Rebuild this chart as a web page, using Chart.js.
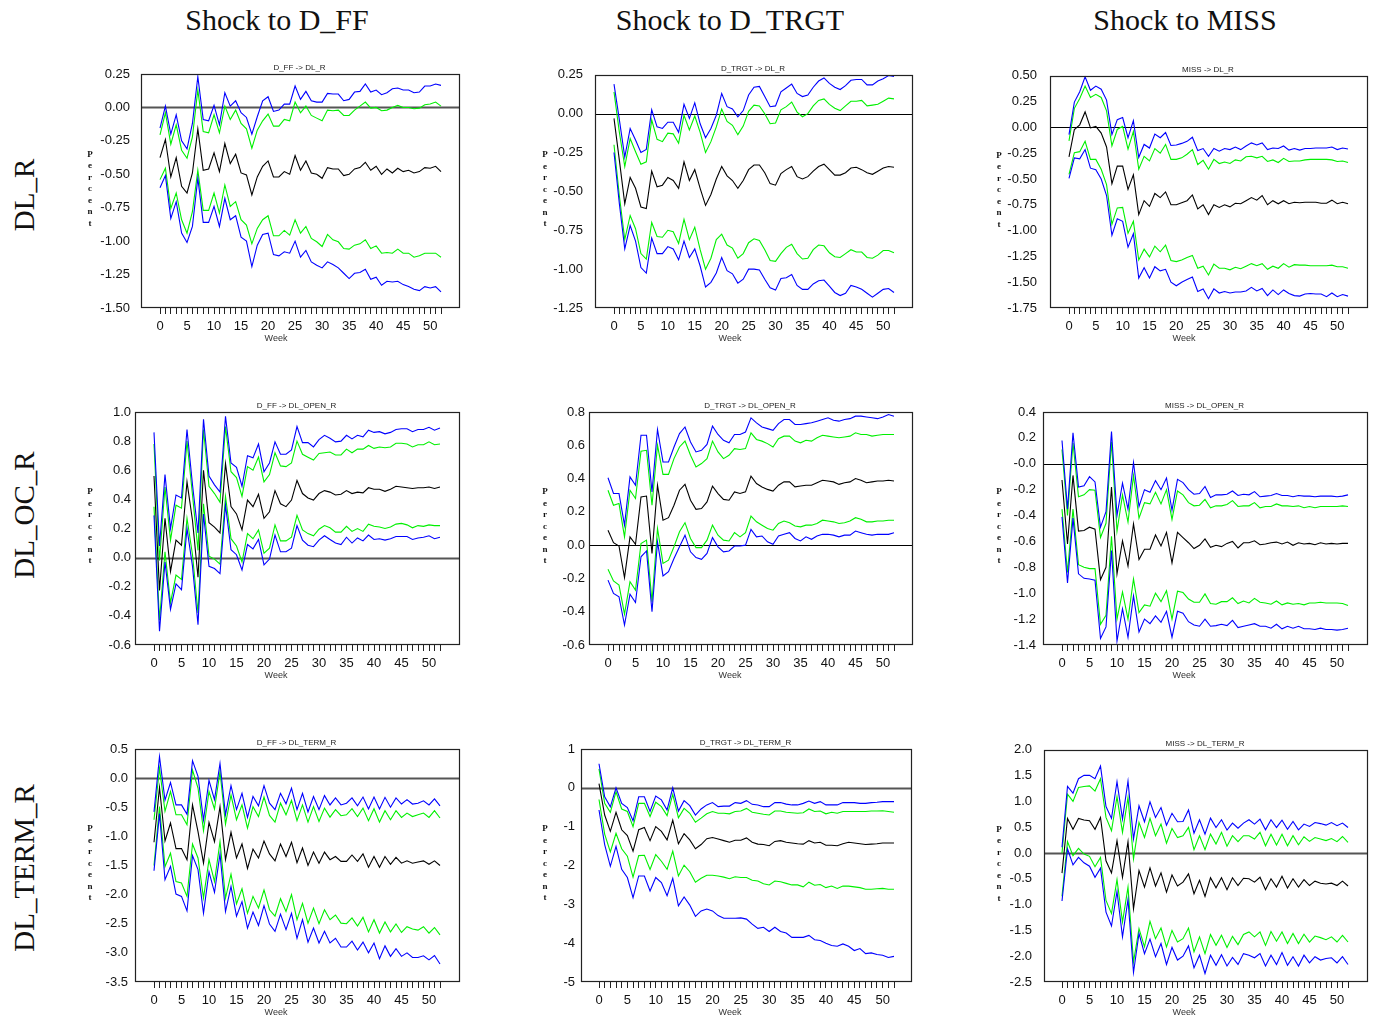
<!DOCTYPE html>
<html>
<head>
<meta charset="utf-8">
<title>Impulse responses</title>
<script src="https://cdn.jsdelivr.net/npm/chart.js@4.4.1/dist/chart.umd.min.js"></script>
<style>
  html, body { margin: 0; padding: 0; background: #fff; }
  body { width: 1376px; height: 1022px; position: relative; overflow: hidden; }
  .cell { position: absolute; }
  .cell canvas { display: block; }
  .head, .rowlab {
    position: absolute; font-family: 'Liberation Serif', 'Times New Roman', serif;
    color: #111; white-space: nowrap; line-height: 1;
  }
  .head { font-size: 30px; transform: translate(-50%, -50%); }
  .rowlab { font-size: 29px; transform: translate(-50%, -50%) rotate(-90deg); }
</style>
</head>
<body>
<div class="head" style="left:277px; top:20px;">Shock to D_FF</div>
<div class="head" style="left:730px; top:20px;">Shock to D_TRGT</div>
<div class="head" style="left:1185px; top:20px;">Shock to MISS</div>
<div class="rowlab" style="left:24px; top:195px;">DL_R</div>
<div class="rowlab" style="left:24px; top:515px;">DL_OC_R</div>
<div class="rowlab" style="left:24px; top:868px;">DL_TERM_R</div>

<script>
// ---- horizon (weeks) and axis tick labels ----
const weeks = [0,1,2,3,4,5,6,7,8,9,10,11,12,13,14,15,16,17,18,19,20,21,22,23,24,25,
  26,27,28,29,30,31,32,33,34,35,36,37,38,39,40,41,42,43,44,45,46,47,48,49,50,51,52];
const weekLabels = ['0','5','10','15','20','25','30','35','40','45','50'];

const yTicksDlrFF = [0.25,0,-0.25,-0.5,-0.75,-1,-1.25,-1.5];
const yLabelsDlrFF = ['0.25','0.00','-0.25','-0.50','-0.75','-1.00','-1.25','-1.50'];
const yTicksDlrTRGT = [0.25,0,-0.25,-0.5,-0.75,-1,-1.25];
const yLabelsDlrTRGT = ['0.25','0.00','-0.25','-0.50','-0.75','-1.00','-1.25'];
const yTicksDlrMISS = [0.5,0.25,0,-0.25,-0.5,-0.75,-1,-1.25,-1.5,-1.75];
const yLabelsDlrMISS = ['0.50','0.25','0.00','-0.25','-0.50','-0.75','-1.00','-1.25','-1.50','-1.75'];
const yTicksOpenFF = [1,0.8,0.6,0.4,0.2,0,-0.2,-0.4,-0.6];
const yLabelsOpenFF = ['1.0','0.8','0.6','0.4','0.2','0.0','-0.2','-0.4','-0.6'];
const yTicksOpenTRGT = [0.8,0.6,0.4,0.2,0,-0.2,-0.4,-0.6];
const yLabelsOpenTRGT = ['0.8','0.6','0.4','0.2','0.0','-0.2','-0.4','-0.6'];
const yTicksOpenMISS = [0.4,0.2,0,-0.2,-0.4,-0.6,-0.8,-1,-1.2,-1.4];
const yLabelsOpenMISS = ['0.4','0.2','-0.0','-0.2','-0.4','-0.6','-0.8','-1.0','-1.2','-1.4'];
const yTicksTermFF = [0.5,0,-0.5,-1,-1.5,-2,-2.5,-3,-3.5];
const yLabelsTermFF = ['0.5','0.0','-0.5','-1.0','-1.5','-2.0','-2.5','-3.0','-3.5'];
const yTicksTermTRGT = [1,0,-1,-2,-3,-4,-5];
const yLabelsTermTRGT = ['1','0','-1','-2','-3','-4','-5'];
const yTicksTermMISS = [2,1.5,1,0.5,0,-0.5,-1,-1.5,-2,-2.5];
const yLabelsTermMISS = ['2.0','1.5','1.0','0.5','0.0','-0.5','-1.0','-1.5','-2.0','-2.5'];

// ---- D_FF -> DL_R ----
const dffDlrResp = [-0.375,-0.24,-0.52,-0.375,-0.59,-0.64,-0.49,-0.16,-0.47,-0.46,
  -0.34,-0.48,-0.27,-0.42,-0.35,-0.49,-0.505,-0.655,-0.52,-0.44,
  -0.40,-0.52,-0.52,-0.48,-0.50,-0.36,-0.47,-0.40,-0.49,-0.50,
  -0.53,-0.45,-0.46,-0.46,-0.51,-0.50,-0.46,-0.45,-0.41,-0.47,
  -0.44,-0.50,-0.46,-0.49,-0.455,-0.48,-0.47,-0.49,-0.48,-0.45,
  -0.455,-0.44,-0.48];
const dffDlrUp2 = [-0.155,0.01,-0.20,-0.055,-0.25,-0.31,-0.12,0.23,-0.09,-0.10,
  0.015,-0.13,0.11,0.01,0.05,-0.04,-0.075,-0.20,-0.07,0.05,
  0.08,-0.03,-0.02,0.025,0.025,0.16,0.06,0.12,0.05,0.04,
  0.04,0.105,0.10,0.10,0.05,0.06,0.115,0.12,0.175,0.115,
  0.13,0.095,0.11,0.14,0.145,0.13,0.13,0.11,0.115,0.16,
  0.16,0.175,0.165];
const dffDlrUp1 = [-0.205,-0.04,-0.275,-0.13,-0.32,-0.38,-0.22,0.13,-0.18,-0.19,
  -0.055,-0.19,0.01,-0.09,-0.02,-0.12,-0.16,-0.305,-0.17,-0.10,
  -0.05,-0.14,-0.14,-0.09,-0.10,0.04,-0.04,0.01,-0.06,-0.08,
  -0.10,-0.02,-0.025,-0.02,-0.06,-0.06,-0.02,0.01,0.04,-0.005,
  0.00,-0.025,-0.02,0.00,0.015,0.00,0.00,-0.01,-0.005,0.02,
  0.025,0.04,0.01];
const dffDlrLo1 = [-0.54,-0.455,-0.755,-0.64,-0.84,-0.94,-0.78,-0.47,-0.77,-0.77,
  -0.64,-0.79,-0.58,-0.74,-0.705,-0.84,-0.88,-1.02,-0.905,-0.84,
  -0.81,-0.96,-0.96,-0.92,-0.955,-0.84,-0.94,-0.89,-0.98,-1.005,
  -1.04,-0.95,-0.99,-1.005,-1.055,-1.06,-1.03,-1.02,-0.99,-1.055,
  -1.035,-1.09,-1.085,-1.09,-1.06,-1.09,-1.09,-1.12,-1.11,-1.09,
  -1.09,-1.09,-1.12];
const dffDlrLo2 = [-0.60,-0.51,-0.83,-0.705,-0.94,-1.01,-0.89,-0.53,-0.86,-0.86,
  -0.74,-0.89,-0.68,-0.84,-0.81,-0.97,-1.00,-1.19,-1.03,-0.95,
  -0.94,-1.10,-1.11,-1.08,-1.09,-1.00,-1.12,-1.07,-1.155,-1.18,
  -1.20,-1.155,-1.175,-1.20,-1.24,-1.28,-1.24,-1.235,-1.21,-1.285,
  -1.27,-1.33,-1.30,-1.305,-1.30,-1.325,-1.34,-1.36,-1.37,-1.34,
  -1.35,-1.34,-1.38];

// ---- D_TRGT -> DL_R ----
const dtrgtDlrResp = [-0.03,-0.30,-0.58,-0.41,-0.48,-0.60,-0.61,-0.37,-0.47,-0.46,
  -0.41,-0.43,-0.48,-0.31,-0.43,-0.36,-0.48,-0.59,-0.52,-0.42,
  -0.34,-0.40,-0.43,-0.48,-0.43,-0.36,-0.33,-0.33,-0.38,-0.45,
  -0.46,-0.385,-0.36,-0.34,-0.405,-0.42,-0.405,-0.37,-0.34,-0.325,
  -0.36,-0.395,-0.395,-0.38,-0.35,-0.345,-0.36,-0.38,-0.39,-0.37,
  -0.35,-0.34,-0.345];
const dtrgtDlrUp2 = [0.19,-0.04,-0.28,-0.095,-0.17,-0.25,-0.23,0.025,-0.085,-0.095,
  -0.055,-0.055,-0.12,0.06,-0.03,0.07,-0.065,-0.155,-0.095,-0.01,
  0.13,0.045,0.03,-0.02,0.02,0.12,0.17,0.175,0.11,0.045,
  0.05,0.14,0.165,0.19,0.13,0.11,0.12,0.17,0.21,0.23,
  0.195,0.17,0.155,0.18,0.215,0.22,0.22,0.185,0.185,0.21,
  0.225,0.245,0.24];
const dtrgtDlrUp1 = [0.14,-0.12,-0.34,-0.16,-0.245,-0.325,-0.31,-0.04,-0.165,-0.18,
  -0.125,-0.13,-0.19,-0.01,-0.105,-0.015,-0.12,-0.25,-0.18,-0.085,
  0.03,-0.05,-0.075,-0.135,-0.08,0.015,0.055,0.05,0.00,-0.065,
  -0.06,0.025,0.045,0.075,0.01,-0.02,0.00,0.05,0.085,0.095,
  0.06,0.035,0.02,0.05,0.08,0.08,0.085,0.05,0.055,0.06,
  0.08,0.10,0.095];
const dtrgtDlrLo1 = [-0.20,-0.53,-0.81,-0.655,-0.74,-0.90,-0.935,-0.70,-0.79,-0.795,
  -0.75,-0.76,-0.835,-0.68,-0.81,-0.73,-0.875,-1.00,-0.93,-0.81,
  -0.775,-0.845,-0.865,-0.93,-0.90,-0.83,-0.805,-0.815,-0.875,-0.945,
  -0.95,-0.90,-0.86,-0.84,-0.90,-0.935,-0.93,-0.875,-0.845,-0.85,
  -0.895,-0.92,-0.925,-0.90,-0.875,-0.89,-0.89,-0.925,-0.93,-0.91,
  -0.88,-0.88,-0.895];
const dtrgtDlrLo2 = [-0.25,-0.58,-0.87,-0.72,-0.82,-0.99,-1.025,-0.80,-0.90,-0.90,
  -0.855,-0.87,-0.94,-0.82,-0.925,-0.87,-0.98,-1.115,-1.085,-1.025,
  -0.925,-1.01,-1.03,-1.09,-1.065,-1.00,-1.00,-1.005,-1.065,-1.12,
  -1.135,-1.06,-1.055,-1.035,-1.105,-1.13,-1.13,-1.095,-1.075,-1.07,
  -1.11,-1.15,-1.17,-1.155,-1.105,-1.115,-1.13,-1.155,-1.18,-1.155,
  -1.13,-1.125,-1.15];

// ---- MISS -> DL_R ----
const missDlrResp = [-0.285,-0.02,0.025,0.15,-0.005,0.01,-0.055,-0.19,-0.545,-0.375,
  -0.375,-0.60,-0.46,-0.845,-0.71,-0.765,-0.64,-0.68,-0.625,-0.75,
  -0.75,-0.73,-0.71,-0.655,-0.79,-0.75,-0.845,-0.75,-0.775,-0.75,
  -0.77,-0.735,-0.74,-0.71,-0.68,-0.705,-0.66,-0.75,-0.71,-0.74,
  -0.71,-0.74,-0.725,-0.73,-0.725,-0.725,-0.725,-0.735,-0.735,-0.705,
  -0.74,-0.725,-0.74];
const missDlrUp2 = [-0.07,0.245,0.345,0.49,0.36,0.40,0.37,0.265,-0.07,0.075,
  0.095,-0.10,0.065,-0.29,-0.165,-0.20,-0.065,-0.10,-0.05,-0.175,
  -0.17,-0.155,-0.135,-0.095,-0.225,-0.205,-0.28,-0.205,-0.23,-0.205,
  -0.215,-0.19,-0.215,-0.18,-0.15,-0.17,-0.15,-0.215,-0.20,-0.205,
  -0.18,-0.22,-0.205,-0.22,-0.205,-0.205,-0.20,-0.20,-0.20,-0.19,
  -0.215,-0.20,-0.21];
const missDlrUp1 = [-0.13,0.185,0.28,0.40,0.29,0.32,0.29,0.16,-0.18,-0.02,
  0.01,-0.21,-0.04,-0.405,-0.28,-0.325,-0.205,-0.25,-0.165,-0.31,
  -0.31,-0.295,-0.26,-0.215,-0.36,-0.32,-0.405,-0.31,-0.35,-0.335,
  -0.35,-0.315,-0.325,-0.285,-0.28,-0.295,-0.28,-0.33,-0.315,-0.34,
  -0.30,-0.33,-0.325,-0.325,-0.315,-0.31,-0.31,-0.31,-0.31,-0.315,
  -0.33,-0.325,-0.34];
const missDlrLo1 = [-0.455,-0.245,-0.235,-0.135,-0.31,-0.31,-0.405,-0.555,-0.94,-0.78,
  -0.775,-1.025,-0.91,-1.285,-1.18,-1.255,-1.15,-1.205,-1.14,-1.29,
  -1.30,-1.285,-1.26,-1.24,-1.365,-1.345,-1.43,-1.325,-1.365,-1.365,
  -1.38,-1.355,-1.37,-1.345,-1.32,-1.34,-1.32,-1.375,-1.345,-1.365,
  -1.32,-1.355,-1.33,-1.335,-1.335,-1.34,-1.34,-1.34,-1.34,-1.335,
  -1.35,-1.35,-1.365];
const missDlrLo2 = [-0.495,-0.295,-0.305,-0.215,-0.395,-0.41,-0.50,-0.66,-1.045,-0.885,
  -0.91,-1.16,-1.03,-1.46,-1.36,-1.46,-1.35,-1.39,-1.375,-1.50,
  -1.535,-1.50,-1.475,-1.45,-1.59,-1.565,-1.66,-1.565,-1.605,-1.59,
  -1.605,-1.595,-1.595,-1.585,-1.55,-1.585,-1.56,-1.63,-1.575,-1.62,
  -1.575,-1.61,-1.63,-1.635,-1.615,-1.61,-1.615,-1.615,-1.64,-1.605,
  -1.64,-1.62,-1.635];

// ---- D_FF -> DL_OPEN_R ----
const dffOpenResp = [0.56,-0.225,0.27,-0.095,0.12,0.085,0.52,0.255,-0.135,0.60,
  0.24,0.21,0.17,0.645,0.35,0.30,0.19,0.395,0.35,0.435,
  0.27,0.315,0.46,0.37,0.35,0.395,0.53,0.44,0.41,0.395,
  0.44,0.46,0.45,0.43,0.435,0.46,0.44,0.45,0.445,0.48,
  0.47,0.47,0.455,0.47,0.49,0.485,0.48,0.475,0.48,0.48,
  0.485,0.475,0.485];
const dffOpenUp2 = [0.86,0.08,0.57,0.20,0.43,0.41,0.88,0.50,0.17,0.95,
  0.56,0.50,0.45,0.97,0.65,0.62,0.49,0.70,0.685,0.78,
  0.59,0.65,0.795,0.71,0.71,0.74,0.90,0.79,0.79,0.76,
  0.81,0.84,0.82,0.795,0.80,0.84,0.815,0.84,0.83,0.875,
  0.86,0.865,0.85,0.86,0.88,0.885,0.885,0.865,0.88,0.88,
  0.895,0.875,0.89];
const dffOpenUp1 = [0.78,-0.02,0.485,0.12,0.36,0.34,0.80,0.43,0.05,0.88,
  0.49,0.44,0.38,0.90,0.59,0.55,0.42,0.625,0.60,0.69,
  0.52,0.57,0.72,0.63,0.625,0.65,0.80,0.71,0.69,0.67,
  0.715,0.72,0.725,0.705,0.705,0.745,0.72,0.745,0.745,0.77,
  0.75,0.76,0.755,0.76,0.785,0.785,0.78,0.76,0.775,0.775,
  0.795,0.775,0.78];
const dffOpenLo1 = [0.35,-0.43,0.04,-0.31,-0.12,-0.15,0.27,0.02,-0.38,0.37,
  0.01,-0.01,-0.045,0.42,0.13,0.08,-0.03,0.165,0.13,0.19,
  0.03,0.065,0.225,0.115,0.115,0.14,0.29,0.19,0.165,0.15,
  0.195,0.22,0.205,0.175,0.175,0.215,0.18,0.20,0.18,0.23,
  0.215,0.21,0.20,0.21,0.23,0.235,0.225,0.205,0.22,0.215,
  0.225,0.22,0.22];
const dffOpenLo2 = [0.29,-0.505,-0.03,-0.355,-0.18,-0.22,0.20,-0.06,-0.46,0.30,
  -0.06,-0.075,-0.11,0.36,0.055,0.02,-0.085,0.09,0.06,0.125,
  -0.05,-0.01,0.155,0.04,0.04,0.065,0.22,0.12,0.085,0.075,
  0.12,0.15,0.125,0.10,0.09,0.14,0.10,0.135,0.115,0.155,
  0.125,0.13,0.12,0.13,0.145,0.145,0.145,0.125,0.135,0.14,
  0.15,0.13,0.14];

// ---- D_TRGT -> DL_OPEN_R ----
const dtrgtOpenResp = [0.09,0.015,-0.005,-0.195,0.05,0.005,0.29,0.295,-0.05,0.36,
  0.15,0.165,0.24,0.33,0.365,0.27,0.215,0.22,0.26,0.355,
  0.31,0.275,0.27,0.32,0.31,0.32,0.415,0.37,0.35,0.335,
  0.325,0.36,0.38,0.38,0.35,0.355,0.36,0.36,0.375,0.39,
  0.385,0.38,0.365,0.375,0.38,0.40,0.39,0.375,0.38,0.385,
  0.385,0.39,0.385];
const dtrgtOpenUp2 = [0.405,0.31,0.31,0.12,0.41,0.36,0.66,0.66,0.32,0.695,
  0.50,0.50,0.59,0.67,0.71,0.62,0.56,0.57,0.605,0.715,
  0.665,0.63,0.615,0.665,0.665,0.68,0.765,0.735,0.71,0.70,
  0.69,0.73,0.755,0.755,0.725,0.725,0.73,0.735,0.745,0.755,
  0.765,0.75,0.745,0.755,0.76,0.775,0.775,0.77,0.765,0.76,
  0.77,0.785,0.775];
const dtrgtOpenUp1 = [0.33,0.24,0.25,0.05,0.33,0.28,0.565,0.57,0.24,0.60,
  0.425,0.425,0.52,0.59,0.625,0.54,0.47,0.49,0.52,0.625,
  0.56,0.52,0.54,0.58,0.575,0.58,0.675,0.635,0.625,0.61,
  0.59,0.64,0.655,0.655,0.625,0.615,0.63,0.625,0.645,0.66,
  0.655,0.65,0.645,0.65,0.655,0.675,0.665,0.665,0.655,0.66,
  0.665,0.665,0.665];
const dtrgtOpenLo1 = [-0.145,-0.215,-0.24,-0.415,-0.22,-0.27,0.01,0.03,-0.34,0.10,
  -0.11,-0.09,-0.01,0.08,0.135,0.04,-0.015,-0.015,0.03,0.12,
  0.06,0.03,0.025,0.075,0.05,0.075,0.175,0.14,0.12,0.10,
  0.09,0.13,0.145,0.135,0.115,0.11,0.12,0.12,0.13,0.15,
  0.145,0.14,0.13,0.135,0.145,0.165,0.155,0.14,0.14,0.145,
  0.145,0.15,0.15];
const dtrgtOpenLo2 = [-0.21,-0.29,-0.31,-0.48,-0.295,-0.345,-0.07,-0.035,-0.40,0.02,
  -0.185,-0.16,-0.08,-0.01,0.06,-0.04,-0.075,-0.085,-0.05,0.045,
  -0.01,-0.04,-0.035,-0.005,-0.005,0.00,0.095,0.05,0.055,0.02,
  0.005,0.055,0.065,0.075,0.04,0.025,0.05,0.035,0.055,0.065,
  0.065,0.06,0.05,0.06,0.06,0.085,0.075,0.065,0.06,0.065,
  0.065,0.065,0.075];

// ---- MISS -> DL_OPEN_R ----
const missOpenResp = [-0.125,-0.62,-0.09,-0.52,-0.515,-0.49,-0.505,-0.895,-0.80,-0.18,
  -0.85,-0.595,-0.79,-0.465,-0.74,-0.66,-0.66,-0.55,-0.635,-0.53,
  -0.765,-0.53,-0.57,-0.61,-0.655,-0.63,-0.58,-0.645,-0.63,-0.64,
  -0.615,-0.60,-0.65,-0.61,-0.61,-0.595,-0.625,-0.62,-0.61,-0.605,
  -0.62,-0.605,-0.63,-0.61,-0.62,-0.615,-0.625,-0.61,-0.62,-0.615,
  -0.62,-0.615,-0.615];
const missOpenUp2 = [0.18,-0.35,0.24,-0.18,-0.17,-0.10,-0.14,-0.49,-0.37,0.25,
  -0.40,-0.15,-0.35,0.01,-0.33,-0.20,-0.22,-0.13,-0.20,-0.11,
  -0.36,-0.12,-0.145,-0.20,-0.235,-0.23,-0.175,-0.26,-0.24,-0.24,
  -0.235,-0.21,-0.245,-0.235,-0.24,-0.215,-0.255,-0.25,-0.245,-0.23,
  -0.245,-0.245,-0.255,-0.245,-0.25,-0.25,-0.255,-0.25,-0.25,-0.25,
  -0.255,-0.25,-0.24];
const missOpenUp1 = [0.11,-0.40,0.16,-0.255,-0.24,-0.20,-0.205,-0.57,-0.46,0.17,
  -0.52,-0.24,-0.45,-0.09,-0.42,-0.30,-0.31,-0.22,-0.31,-0.20,
  -0.43,-0.21,-0.24,-0.30,-0.325,-0.32,-0.275,-0.34,-0.325,-0.325,
  -0.315,-0.285,-0.33,-0.325,-0.325,-0.30,-0.34,-0.33,-0.33,-0.31,
  -0.325,-0.325,-0.33,-0.325,-0.34,-0.33,-0.34,-0.33,-0.33,-0.33,
  -0.33,-0.325,-0.33];
const missOpenLo1 = [-0.35,-0.84,-0.35,-0.78,-0.80,-0.81,-0.81,-1.24,-1.17,-0.56,
  -1.20,-0.99,-1.20,-0.89,-1.15,-1.09,-1.10,-1.00,-1.065,-0.98,
  -1.20,-0.985,-0.995,-1.045,-1.07,-1.07,-1.005,-1.08,-1.085,-1.065,
  -1.065,-1.035,-1.08,-1.06,-1.075,-1.04,-1.07,-1.075,-1.085,-1.06,
  -1.09,-1.075,-1.085,-1.08,-1.09,-1.075,-1.075,-1.07,-1.075,-1.075,
  -1.075,-1.08,-1.095];
const missOpenLo2 = [-0.41,-0.92,-0.42,-0.85,-0.885,-0.89,-0.90,-1.35,-1.26,-0.67,
  -1.37,-1.12,-1.34,-1.02,-1.30,-1.20,-1.235,-1.175,-1.225,-1.14,
  -1.34,-1.14,-1.155,-1.22,-1.245,-1.255,-1.20,-1.255,-1.25,-1.24,
  -1.25,-1.21,-1.265,-1.255,-1.245,-1.235,-1.255,-1.255,-1.27,-1.24,
  -1.275,-1.255,-1.27,-1.255,-1.275,-1.275,-1.28,-1.27,-1.28,-1.28,
  -1.285,-1.28,-1.27];

// ---- D_FF -> DL_TERM_R ----
const dffTermResp = [-1.10,-0.16,-1.08,-0.77,-1.21,-1.21,-1.40,-0.46,-0.92,-1.46,
  -0.76,-1.09,-0.49,-1.40,-0.93,-1.37,-1.13,-1.55,-1.22,-1.37,
  -1.08,-1.30,-1.42,-1.13,-1.345,-1.10,-1.45,-1.20,-1.50,-1.27,
  -1.46,-1.27,-1.40,-1.345,-1.43,-1.43,-1.32,-1.43,-1.30,-1.53,
  -1.345,-1.53,-1.345,-1.48,-1.36,-1.46,-1.42,-1.46,-1.44,-1.42,
  -1.48,-1.42,-1.50];
const dffTermUp2 = [-0.58,0.37,-0.38,-0.075,-0.46,-0.46,-0.62,0.30,0.03,-0.72,
  -0.04,-0.37,0.25,-0.63,-0.13,-0.54,-0.26,-0.675,-0.315,-0.475,
  -0.13,-0.43,-0.54,-0.26,-0.44,-0.17,-0.54,-0.26,-0.58,-0.315,
  -0.54,-0.30,-0.46,-0.34,-0.46,-0.43,-0.34,-0.475,-0.325,-0.53,
  -0.325,-0.53,-0.33,-0.50,-0.34,-0.445,-0.37,-0.445,-0.43,-0.39,
  -0.46,-0.355,-0.475];
const dffTermUp1 = [-0.715,0.17,-0.57,-0.23,-0.63,-0.63,-0.80,0.14,-0.17,-0.90,
  -0.23,-0.53,0.11,-0.79,-0.29,-0.715,-0.46,-0.86,-0.49,-0.66,
  -0.325,-0.64,-0.755,-0.43,-0.63,-0.38,-0.73,-0.46,-0.755,-0.49,
  -0.745,-0.515,-0.67,-0.54,-0.645,-0.63,-0.525,-0.66,-0.515,-0.73,
  -0.525,-0.755,-0.56,-0.715,-0.56,-0.675,-0.60,-0.66,-0.63,-0.60,
  -0.675,-0.56,-0.685];
const dffTermLo1 = [-1.50,-0.49,-1.52,-1.29,-1.775,-1.80,-2.03,-1.13,-1.37,-2.06,
  -1.40,-1.775,-1.09,-2.06,-1.65,-2.16,-1.90,-2.32,-2.03,-2.23,
  -1.92,-2.26,-2.37,-2.07,-2.29,-2.00,-2.43,-2.15,-2.49,-2.23,
  -2.50,-2.26,-2.43,-2.35,-2.49,-2.50,-2.40,-2.54,-2.39,-2.64,
  -2.43,-2.66,-2.47,-2.64,-2.505,-2.65,-2.55,-2.59,-2.61,-2.55,
  -2.66,-2.565,-2.69];
const dffTermLo2 = [-1.59,-0.61,-1.745,-1.515,-1.99,-2.03,-2.28,-1.33,-1.57,-2.32,
  -1.61,-1.96,-1.30,-2.29,-1.86,-2.37,-2.12,-2.575,-2.30,-2.53,
  -2.19,-2.505,-2.63,-2.335,-2.60,-2.32,-2.75,-2.43,-2.815,-2.575,
  -2.83,-2.63,-2.83,-2.75,-2.90,-2.90,-2.80,-2.95,-2.815,-3.00,
  -2.83,-3.10,-2.88,-3.06,-2.93,-3.06,-3.00,-3.08,-3.08,-3.05,
  -3.12,-3.045,-3.19];

// ---- D_TRGT -> DL_TERM_R ----
const dtrgtTermResp = [0.11,-0.70,-1.12,-0.63,-1.08,-1.23,-1.63,-1.08,-1.02,-1.36,
  -1.00,-1.12,-1.34,-0.83,-1.44,-1.18,-1.34,-1.57,-1.46,-1.31,
  -1.28,-1.32,-1.36,-1.40,-1.35,-1.35,-1.29,-1.40,-1.45,-1.46,
  -1.49,-1.38,-1.36,-1.40,-1.42,-1.44,-1.45,-1.36,-1.42,-1.40,
  -1.48,-1.48,-1.49,-1.44,-1.40,-1.42,-1.44,-1.46,-1.45,-1.44,
  -1.42,-1.42,-1.42];
const dtrgtTermUp2 = [0.62,-0.23,-0.49,0.00,-0.40,-0.51,-0.85,-0.23,-0.23,-0.61,
  -0.21,-0.31,-0.57,0.00,-0.60,-0.33,-0.46,-0.70,-0.545,-0.44,
  -0.38,-0.485,-0.47,-0.47,-0.38,-0.40,-0.33,-0.425,-0.44,-0.485,
  -0.485,-0.38,-0.38,-0.42,-0.44,-0.44,-0.40,-0.34,-0.40,-0.355,
  -0.44,-0.44,-0.44,-0.38,-0.38,-0.38,-0.40,-0.40,-0.38,-0.37,
  -0.355,-0.355,-0.355];
const dtrgtTermUp1 = [0.49,-0.40,-0.63,-0.10,-0.545,-0.61,-1.00,-0.40,-0.40,-0.74,
  -0.37,-0.485,-0.715,-0.17,-0.77,-0.53,-0.655,-0.885,-0.78,-0.67,
  -0.61,-0.655,-0.655,-0.67,-0.61,-0.595,-0.53,-0.63,-0.655,-0.68,
  -0.70,-0.595,-0.595,-0.63,-0.64,-0.655,-0.64,-0.545,-0.61,-0.595,
  -0.67,-0.63,-0.655,-0.61,-0.61,-0.61,-0.61,-0.61,-0.595,-0.595,
  -0.59,-0.61,-0.63];
const dtrgtTermLo1 = [-0.30,-1.19,-1.65,-1.17,-1.57,-1.76,-2.30,-1.745,-1.735,-2.10,
  -1.72,-1.89,-2.10,-1.63,-2.27,-1.99,-2.16,-2.43,-2.33,-2.25,
  -2.25,-2.27,-2.30,-2.34,-2.29,-2.31,-2.31,-2.38,-2.40,-2.47,
  -2.50,-2.40,-2.42,-2.46,-2.50,-2.50,-2.55,-2.43,-2.51,-2.49,
  -2.57,-2.53,-2.59,-2.53,-2.53,-2.55,-2.57,-2.61,-2.61,-2.60,
  -2.59,-2.61,-2.61];
const dtrgtTermLo2 = [-0.57,-1.46,-2.02,-1.51,-2.10,-2.31,-2.83,-2.27,-2.27,-2.655,
  -2.31,-2.44,-2.78,-2.33,-3.04,-2.81,-3.02,-3.31,-3.17,-3.12,
  -3.17,-3.29,-3.36,-3.36,-3.36,-3.35,-3.38,-3.51,-3.62,-3.59,
  -3.70,-3.59,-3.70,-3.74,-3.85,-3.85,-3.85,-3.80,-3.91,-3.93,
  -4.00,-4.06,-4.08,-4.02,-4.08,-4.19,-4.14,-4.27,-4.25,-4.29,
  -4.31,-4.37,-4.34];

// ---- MISS -> DL_TERM_R ----
const missTermResp = [-0.39,0.67,0.46,0.67,0.64,0.625,0.46,0.69,-0.15,-0.385,
  0.24,-0.47,0.22,-1.08,-0.34,-0.66,-0.29,-0.64,-0.385,-0.76,
  -0.425,-0.64,-0.565,-0.405,-0.79,-0.53,-0.84,-0.48,-0.675,-0.48,
  -0.71,-0.48,-0.63,-0.49,-0.50,-0.565,-0.47,-0.71,-0.50,-0.66,
  -0.45,-0.68,-0.50,-0.66,-0.515,-0.63,-0.545,-0.585,-0.60,-0.585,
  -0.63,-0.545,-0.64];
const missTermUp2 = [0.11,1.29,1.16,1.44,1.505,1.505,1.44,1.685,0.90,0.67,
  1.38,0.655,1.395,0.27,0.915,0.605,0.99,0.69,0.88,0.54,
  0.77,0.605,0.61,0.835,0.385,0.645,0.365,0.675,0.495,0.645,
  0.445,0.58,0.48,0.58,0.645,0.56,0.655,0.45,0.645,0.495,
  0.635,0.46,0.61,0.45,0.56,0.515,0.59,0.57,0.54,0.59,
  0.53,0.58,0.495];
const missTermUp1 = [0.00,1.14,1.00,1.27,1.29,1.30,1.20,1.44,0.69,0.43,
  1.09,0.40,1.075,-0.115,0.59,0.30,0.67,0.335,0.56,0.19,
  0.475,0.30,0.335,0.495,0.065,0.335,0.065,0.365,0.175,0.40,
  0.13,0.335,0.22,0.335,0.335,0.27,0.40,0.14,0.365,0.155,
  0.365,0.14,0.335,0.16,0.315,0.225,0.30,0.27,0.24,0.28,
  0.22,0.32,0.205];
const missTermLo1 = [-0.84,0.22,-0.05,0.09,-0.02,-0.065,-0.265,-0.085,-0.92,-1.175,
  -0.515,-1.34,-0.66,-2.11,-1.465,-1.82,-1.325,-1.66,-1.455,-1.82,
  -1.50,-1.725,-1.66,-1.455,-1.915,-1.625,-1.95,-1.58,-1.79,-1.595,
  -1.83,-1.615,-1.775,-1.58,-1.53,-1.625,-1.53,-1.79,-1.52,-1.71,
  -1.53,-1.755,-1.56,-1.755,-1.575,-1.725,-1.61,-1.64,-1.68,-1.625,
  -1.725,-1.595,-1.725];
const missTermLo2 = [-0.93,0.08,-0.23,-0.085,-0.19,-0.255,-0.47,-0.295,-1.145,-1.415,
  -0.745,-1.625,-0.90,-2.315,-1.56,-1.95,-1.67,-2.01,-1.755,-2.16,
  -1.83,-2.075,-2.00,-1.80,-2.225,-1.98,-2.335,-1.98,-2.175,-1.97,
  -2.19,-2.025,-2.16,-1.95,-1.98,-2.03,-1.95,-2.19,-1.98,-2.16,
  -1.93,-2.175,-2.01,-2.19,-1.98,-2.13,-2.01,-2.075,-2.045,-2.03,
  -2.13,-2.01,-2.16];

// ---- layout of the 3 x 3 grid (page pixels) ----
const colCanvas = [{x: 55, w: 415}, {x: 515, w: 410}, {x: 975, w: 401}];
const rowCanvas = [{y: 55, h: 295}, {y: 392, h: 298}, {y: 730, h: 292}];
const rowFrame = [{t: 74, b: 308}, {t: 412, b: 645}, {t: 749, b: 982}];
const percentX = [90, 545, 999];
const weekX = [276, 730, 1184];

const panels = [
  { col: 0, row: 0, title: 'D_FF -> DL_R', fl: 141, fr: 460, w0: 160, w52: 441, labR: 130, soft: true,
    yt: yTicksDlrFF, yl: yLabelsDlrFF, s: [dffDlrUp2, dffDlrUp1, dffDlrResp, dffDlrLo1, dffDlrLo2] },
  { col: 1, row: 0, title: 'D_TRGT -> DL_R', fl: 595, fr: 913, w0: 614, w52: 894, labR: 583, soft: false,
    yt: yTicksDlrTRGT, yl: yLabelsDlrTRGT, s: [dtrgtDlrUp2, dtrgtDlrUp1, dtrgtDlrResp, dtrgtDlrLo1, dtrgtDlrLo2] },
  { col: 2, row: 0, title: 'MISS -> DL_R', fl: 1050, fr: 1368, w0: 1069, w52: 1348, labR: 1037, soft: false,
    yt: yTicksDlrMISS, yl: yLabelsDlrMISS, s: [missDlrUp2, missDlrUp1, missDlrResp, missDlrLo1, missDlrLo2] },
  { col: 0, row: 1, title: 'D_FF -> DL_OPEN_R', fl: 135, fr: 460, w0: 154, w52: 440, labR: 131, soft: true,
    yt: yTicksOpenFF, yl: yLabelsOpenFF, s: [dffOpenUp2, dffOpenUp1, dffOpenResp, dffOpenLo1, dffOpenLo2] },
  { col: 1, row: 1, title: 'D_TRGT -> DL_OPEN_R', fl: 589, fr: 913, w0: 608, w52: 894, labR: 585, soft: false,
    yt: yTicksOpenTRGT, yl: yLabelsOpenTRGT, s: [dtrgtOpenUp2, dtrgtOpenUp1, dtrgtOpenResp, dtrgtOpenLo1, dtrgtOpenLo2] },
  { col: 2, row: 1, title: 'MISS -> DL_OPEN_R', fl: 1043, fr: 1368, w0: 1062, w52: 1348, labR: 1036, soft: false,
    yt: yTicksOpenMISS, yl: yLabelsOpenMISS, s: [missOpenUp2, missOpenUp1, missOpenResp, missOpenLo1, missOpenLo2] },
  { col: 0, row: 2, title: 'D_FF -> DL_TERM_R', fl: 135, fr: 460, w0: 154, w52: 440, labR: 128, soft: true,
    yt: yTicksTermFF, yl: yLabelsTermFF, s: [dffTermUp2, dffTermUp1, dffTermResp, dffTermLo1, dffTermLo2] },
  { col: 1, row: 2, title: 'D_TRGT -> DL_TERM_R', fl: 581, fr: 912, w0: 599, w52: 894, labR: 575, soft: true,
    yt: yTicksTermTRGT, yl: yLabelsTermTRGT, s: [dtrgtTermUp2, dtrgtTermUp1, dtrgtTermResp, dtrgtTermLo1, dtrgtTermLo2] },
  { col: 2, row: 2, title: 'MISS -> DL_TERM_R', fl: 1044, fr: 1368, w0: 1062, w52: 1348, labR: 1032, soft: true,
    yt: yTicksTermMISS, yl: yLabelsTermMISS, s: [missTermUp2, missTermUp1, missTermResp, missTermLo1, missTermLo2] }
];

const lineColors = ['#0000ff', '#00f000', '#000000', '#00f000', '#0000ff'];
const tickFont = { family: "'Liberation Sans', Arial, sans-serif", size: 13 };
const X_AXIS_H = 26;

// frame, zero line, small panel title, stacked "Percent" and "Week"
const panelDecor = {
  id: 'panelDecor',
  beforeDatasetsDraw(chart, args, o) {
    const { ctx, chartArea: a, scales: { y } } = chart;
    const z = Math.round(y.getPixelForValue(0)) + 0.5;
    ctx.save();
    ctx.strokeStyle = o.soft ? '#555' : '#000';
    ctx.lineWidth = o.soft ? 1.8 : 1.1;
    ctx.beginPath(); ctx.moveTo(a.left, z); ctx.lineTo(a.right, z); ctx.stroke();
    ctx.restore();
  },
  afterDraw(chart, args, o) {
    const { ctx, chartArea: a } = chart;
    ctx.save();
    ctx.strokeStyle = '#222';
    ctx.lineWidth = 1.2;
    ctx.strokeRect(Math.round(a.left) + 0.5, Math.round(a.top) + 0.5,
                   Math.round(a.right - a.left) - 1, Math.round(a.bottom - a.top) - 1);
    ctx.fillStyle = '#222';
    ctx.textAlign = 'center';
    ctx.textBaseline = 'middle';
    ctx.font = "8px 'Liberation Sans', Arial, sans-serif";
    ctx.fillText(o.title, (a.left + a.right) / 2 - 1, a.top - 6);
    ctx.font = "9px 'Liberation Sans', Arial, sans-serif";
    ctx.fillStyle = '#333';
    ctx.fillText('Week', o.weekX, a.bottom + 31);
    ctx.fillStyle = '#111';
    ctx.font = "bold 9px 'Liberation Serif', 'Times New Roman', serif";
    const letters = 'Percent'.split('');
    const mid = (a.top + a.bottom) / 2 - 2;
    letters.forEach((ch, i) => ctx.fillText(ch, o.percentX, mid + (i - 3) * 11.5));
    ctx.restore();
  }
};

panels.forEach(p => {
  const cc = colCanvas[p.col], rc = rowCanvas[p.row], rf = rowFrame[p.row];
  const wrap = document.createElement('div');
  wrap.className = 'cell';
  wrap.style.left = cc.x + 'px';
  wrap.style.top = rc.y + 'px';
  wrap.style.width = cc.w + 'px';
  wrap.style.height = rc.h + 'px';
  const cv = document.createElement('canvas');
  cv.width = cc.w; cv.height = rc.h;
  cv.style.width = cc.w + 'px'; cv.style.height = rc.h + 'px';
  wrap.appendChild(cv);
  document.body.appendChild(wrap);

  const pxPerWeek = (p.w52 - p.w0) / 52;
  const xMin = -(p.w0 - p.fl) / pxPerWeek;
  const xMax = 52 + (p.fr - p.w52) / pxPerWeek;

  const datasets = p.s.map((vals, k) => ({
    data: vals.map((v, i) => ({ x: weeks[i], y: v })),
    borderColor: lineColors[k],
    borderWidth: 1.1,
    pointRadius: 0,
    tension: 0,
    fill: false,
    order: k === 2 ? 0 : (k === 0 || k === 4 ? 1 : 2)
  }));

  new Chart(cv, {
    type: 'line',
    data: { datasets },
    options: {
      responsive: false,
      animation: false,
      devicePixelRatio: 1,
      layout: { padding: { left: 0, top: rf.t - rc.y, right: cc.x + cc.w - p.fr,
                           bottom: rc.y + rc.h - rf.b - X_AXIS_H } },
      scales: {
        x: {
          type: 'linear', min: xMin, max: xMax,
          afterFit(s) { s.height = X_AXIS_H; },
          afterBuildTicks(s) { s.ticks = weeks.map(v => ({ value: v })); },
          ticks: {
            autoSkip: false, maxRotation: 0, minRotation: 0, padding: 5,
            color: '#111', font: tickFont,
            callback: (v) => weekLabels.includes(String(v)) ? String(v) : ''
          },
          grid: { drawOnChartArea: false, drawTicks: true, tickLength: 6, color: '#222', lineWidth: 1 },
          border: { display: false }
        },
        y: {
          min: p.yt[p.yt.length - 1], max: p.yt[0],
          afterFit(s) { s.width = p.fl - cc.x; },
          afterBuildTicks(s) { s.ticks = p.yt.map(v => ({ value: v })); },
          ticks: {
            padding: p.fl - p.labR, color: '#111', font: tickFont,
            callback: (v, i) => p.yl[i]
          },
          grid: { display: false, drawTicks: false },
          border: { display: false }
        }
      },
      plugins: {
        legend: { display: false },
        tooltip: { enabled: false },
        panelDecor: { title: p.title, soft: p.soft,
                      percentX: percentX[p.col] - cc.x, weekX: weekX[p.col] - cc.x }
      }
    },
    plugins: [panelDecor]
  });
});
</script>
</body>
</html>
